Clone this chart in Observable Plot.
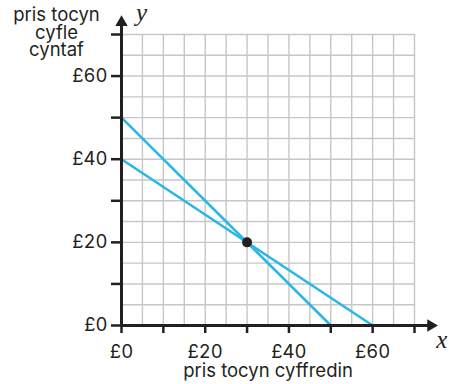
<!DOCTYPE html>
<html><head><meta charset="utf-8">
<script src="https://cdn.jsdelivr.net/npm/d3@7"></script>
<script src="https://cdn.jsdelivr.net/npm/@observablehq/plot@0.6"></script>
<style>body{margin:0;background:#fff}</style>
</head><body><div id="chart"></div>
<script>
const gridTicks = [0,5,10,15,20,25,30,35,40,45,50,55,60,65,70];
const axisTicks = [0,10,20,30,40,50,60,70];
const labelledTicks = [0,20,40,60];
const line1X = [0,50], line1Y = [50,0];
const line2X = [0,60], line2Y = [40,0];
const pointX = [30], pointY = [20];
const xTitle = "pris tocyn cyffredin";
const yTitle = "pris tocyn\ncyfle\ncyntaf";
const xEnd = 73.9, yEnd = 72.9;

const fmt = d => labelledTicks.includes(d) ? `£${d}` : "";
const font = "Inter, 'Noto Sans', sans-serif";
const blue = "#2bb7e6";
const ink = "#231f20";
const fs = 18.5;

const l1 = line1X.map((x,i)=>({x, y: line1Y[i]}));
const l2 = line2X.map((x,i)=>({x, y: line2Y[i]}));
const pt = pointX.map((x,i)=>({x, y: pointY[i]}));

const chart = Plot.plot({
  width: 449, height: 384,
  marginLeft: 121, marginRight: 35, marginTop: 34, marginBottom: 59,
  x: {domain: [0,70]}, y: {domain: [0,70]},
  style: {fontFamily: font, fontSize: fs + "px", color: ink, background: "#fff", overflow: "visible"},
  marks: [
    Plot.ruleX(gridTicks, {y1: 0, y2: 70, stroke: "#c6c6c6", strokeWidth: 1.4}),
    Plot.ruleY(gridTicks, {x1: 0, x2: 70, stroke: "#c6c6c6", strokeWidth: 1.4}),
    Plot.line(l1, {x: "x", y: "y", stroke: blue, strokeWidth: 2.6}),
    Plot.line(l2, {x: "x", y: "y", stroke: blue, strokeWidth: 2.6}),
    Plot.axisX({ticks: axisTicks, tickFormat: fmt, tickSize: 8, tickPadding: 11, strokeWidth: 2.5, stroke: ink, fill: ink, fontSize: fs, label: null}),
    Plot.axisY({ticks: axisTicks, tickFormat: fmt, tickSize: 10, tickPadding: 4, strokeWidth: 2.5, stroke: ink, fill: ink, fontSize: fs, label: null}),
    Plot.ruleY([0], {x1: 0, x2: xEnd, stroke: ink, strokeWidth: 3}),
    Plot.ruleX([0], {y1: 0, y2: yEnd, stroke: ink, strokeWidth: 3}),
    Plot.dot([{x: xEnd, y: 0}], {x: "x", y: "y", symbol: "triangle", r: 4.6, fill: ink, rotate: 90}),
    Plot.dot([{x: 0, y: yEnd}], {x: "x", y: "y", symbol: "triangle", r: 4.6, fill: ink}),
    Plot.dot(pt, {x: "x", y: "y", r: 5, fill: ink}),
    Plot.text([xTitle], {x: 35, y: 0, text: d => d, dy: 38, lineAnchor: "top", fontSize: fs, fill: ink}),
    Plot.text([yTitle], {x: 0, y: 70, text: d => d, dx: -65, dy: -25.4, lineAnchor: "top", lineHeight: 0.93, fontSize: fs, fill: ink}),
    Plot.text(["x"], {x: xEnd, y: 0, text: d => d, dx: 11, dy: 14, fontFamily: "'Liberation Serif', 'DejaVu Serif', serif", fontStyle: "italic", fontSize: 25, fill: ink}),
    Plot.text(["y"], {x: 0, y: yEnd, text: d => d, dx: 20, dy: -9, fontFamily: "'Liberation Serif', 'DejaVu Serif', serif", fontStyle: "italic", fontSize: 25, fill: ink})
  ]
});
document.getElementById("chart").appendChild(chart);
</script>
</body></html>
